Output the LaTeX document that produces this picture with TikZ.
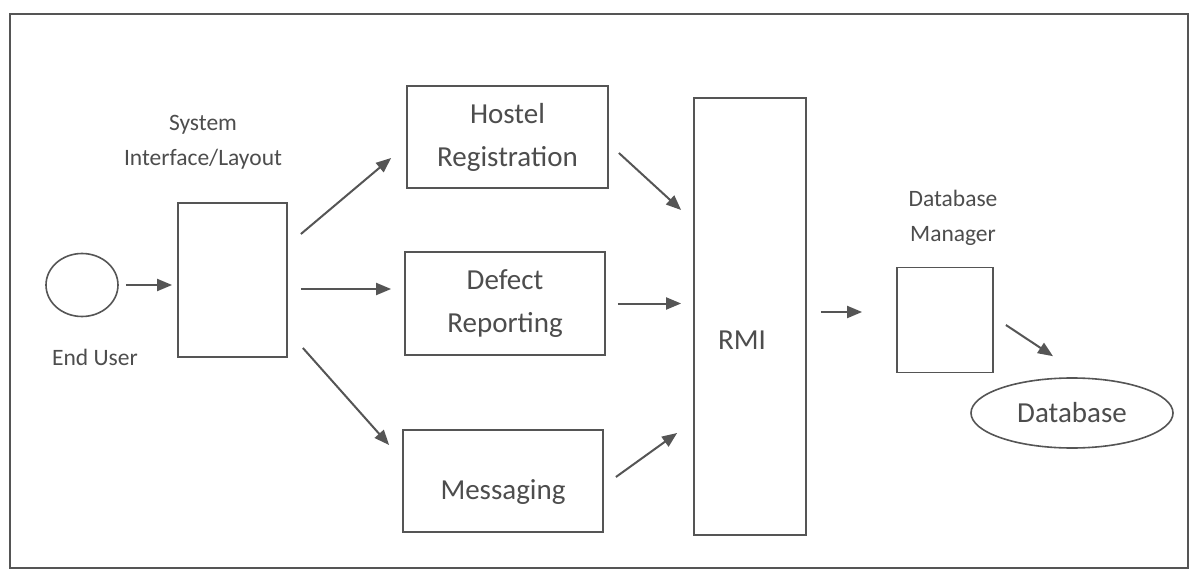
\documentclass[tikz,border=0pt]{standalone}
\usepackage{fontspec}
\setmainfont{Carlito}
\usetikzlibrary{arrows.meta,shapes.geometric}
\definecolor{linegray}{HTML}{555555}
\definecolor{textgray}{HTML}{4D4D4D}

\begin{document}
\begin{tikzpicture}[x=1pt,y=-1pt,
  every node/.style={text=textgray},
  box/.style={draw=linegray,line width=1.8pt,rectangle,inner sep=0pt},
  oval/.style={draw=linegray,line width=1.6pt,ellipse,inner sep=0pt},
  bigtxt/.style={font=\fontsize{29}{43}\selectfont,align=center},
  smalltxt/.style={font=\fontsize{23.5}{35}\selectfont,align=center},
  flow/.style={draw=linegray,line width=2pt,-{Triangle[length=15pt,width=12pt]}},
]
\useasboundingbox[fill=white] (0,0) rectangle (1198,577);
\draw[draw=linegray,line width=1.8pt] (10,14) rectangle (1188,568);

% actor and interface
\node[oval,minimum width=72pt,minimum height=63pt] (user) at (82,285) {};
\node[smalltxt] (usertxt) at (95,357) {End User};
\node[box,minimum width=109pt,minimum height=154pt] (sys) at (232.5,280) {};
\node[smalltxt] (systxt) at (203,142.5) {System\\Interface/Layout};

% modules
\node[box,bigtxt,minimum width=201pt,minimum height=102pt] (hostel) at (507.5,137) {Hostel\\Registration};
\node[box,bigtxt,minimum width=200pt,minimum height=103pt] (defect) at (505,303.5) {Defect\\Reporting};
\node[box,minimum width=200pt,minimum height=102pt] (msg) at (503,481) {};
\node[bigtxt] (msgtxt) at ([yshift=-11pt]msg.center) {Messaging};

% rmi and database side
\node[box,minimum width=112pt,minimum height=437pt] (rmi) at (750,316.5) {};
\node[bigtxt] (rmitxt) at (742,340) {RMI};
\node[box,minimum width=96pt,minimum height=105pt] (dbm) at (945,320) {};
\node[smalltxt] (dbmtxt) at (953,217.5) {Database\\Manager};
\node[oval,bigtxt,minimum width=202pt,minimum height=70pt] (db) at (1072,413) {Database};

% connectors
\draw[flow,shorten <=7pt,shorten >=5pt] (user) -- (sys.west |- user);
\draw[flow] ([xshift=13pt,yshift=46pt]sys.east) -- ([xshift=-15pt,yshift=-21pt]hostel.west);
\draw[flow] ([xshift=13pt,yshift=-9pt]sys.east) -- ([xshift=-13pt,yshift=14.5pt]defect.west);
\draw[flow] ([xshift=15pt,yshift=-68pt]sys.east) -- ([xshift=-13pt,yshift=36pt]msg.west);
\draw[flow] ([xshift=10pt,yshift=-16pt]hostel.east) -- ([xshift=-12pt,yshift=106.5pt]rmi.west);
\draw[flow,shorten <=12pt,shorten >=12pt] (defect.east) -- (rmi.west |- defect.east);
\draw[flow] ([xshift=12pt,yshift=4pt]msg.east) -- ([xshift=-16pt,yshift=-116.5pt]rmi.west);
\draw[flow,shorten <=14pt,shorten >=34pt] ([yshift=4.5pt]rmi.east) -- ([yshift=8pt]dbm.west);
\draw[flow] ([xshift=12pt,yshift=-5pt]dbm.east) -- ([xshift=-19pt,yshift=21pt]db.north);
\end{tikzpicture}
\end{document}
